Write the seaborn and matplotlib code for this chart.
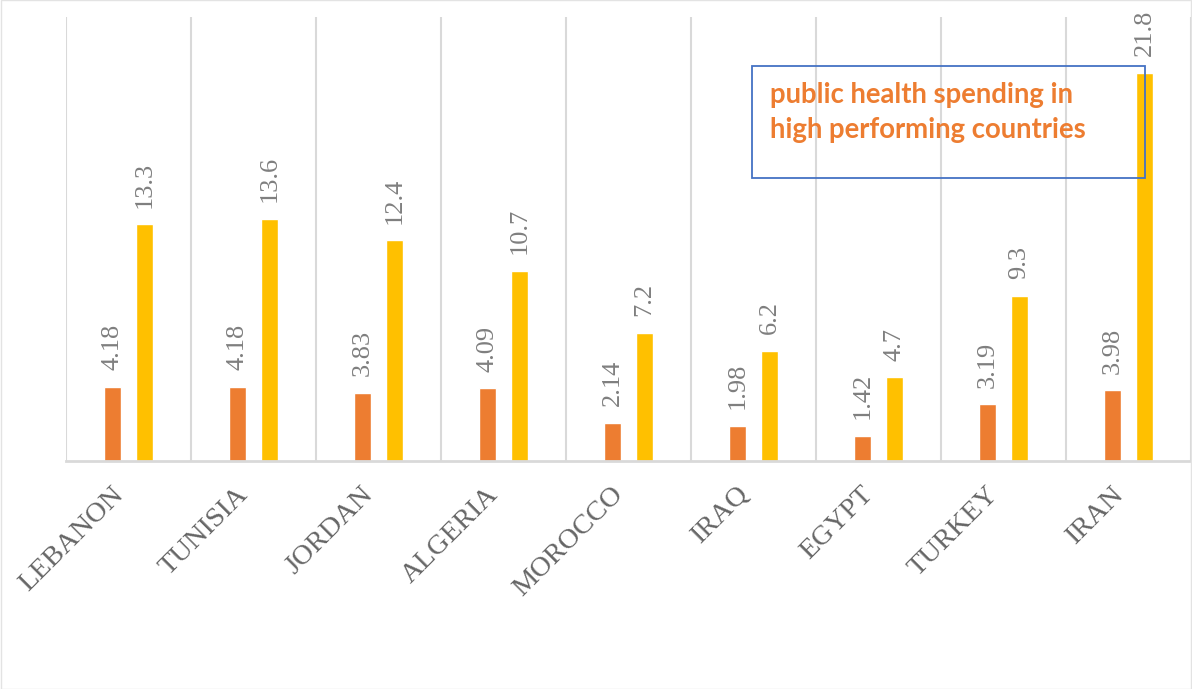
import matplotlib
matplotlib.use("Agg")
import matplotlib.pyplot as plt
from matplotlib.patches import Rectangle
import seaborn as sns
import pandas as pd

countries = ["LEBANON", "TUNISIA", "JORDAN", "ALGERIA", "MOROCCO",
             "IRAQ", "EGYPT", "TURKEY", "IRAN"]
series_a = [4.18, 4.18, 3.83, 4.09, 2.14, 1.98, 1.42, 3.19, 3.98]
series_b = [13.3, 13.6, 12.4, 10.7, 7.2, 6.2, 4.7, 9.3, 21.8]
series_names = ["A", "B"]
note_text = "public health spending in\nhigh performing countries"

df = pd.DataFrame({
    "country": countries * 2,
    "value": series_a + series_b,
    "series": [series_names[0]] * len(countries) + [series_names[1]] * len(countries),
})

sns.set_theme(style="white")
plt.rcParams["font.family"] = ["Liberation Serif", "DejaVu Serif"]

fig = plt.figure(figsize=(11.92, 6.89), dpi=100)
ax = fig.add_axes([66 / 1192, 1 - 461 / 689, 1125 / 1192, 444 / 689])

sns.barplot(data=df, x="country", y="value", hue="series",
            order=countries, hue_order=series_names,
            palette=["#ED7D31", "#FFC000"], width=0.512, gap=0.47,
            legend=False, ax=ax, saturation=1)

for cont in ax.containers:
    ax.bar_label(cont, fmt="{:g}", rotation=90, padding=12,
                 fontsize=19, color="#7F7F7F", family="Liberation Serif")

ax.set_xlim(-0.5, len(countries) - 0.5)
ax.set_ylim(0, 24.95)
ax.set_yticks([])
ax.set_xlabel("")
ax.set_ylabel("")

# category separators
ax.set_xticks([i - 0.5 for i in range(len(countries) + 1)], minor=True)
ax.grid(True, which="minor", axis="x", color="#D9D9D9", linewidth=1.5)
ax.grid(False, which="major")
ax.tick_params(axis="x", which="both", length=0, pad=15)
ax.set_xticks(range(len(countries)))
ax.set_xticklabels(countries, rotation=45, ha="right", va="top",
                   fontsize=20.5, color="#666666", family="Liberation Serif")

for side in ["top", "right", "left"]:
    ax.spines[side].set_visible(False)
ax.spines["bottom"].set_color("#D9D9D9")
ax.spines["bottom"].set_linewidth(2)
ax.set_axisbelow(True)

# annotation box
box = Rectangle((752 / 1192, 1 - 178 / 689), (1145 - 752) / 1192, (178 - 66) / 689,
                transform=fig.transFigure, fill=False, edgecolor="#4472C4",
                linewidth=1.3, zorder=5)
fig.patches.append(box)
fig.text(770 / 1192, 1 - 82 / 689, note_text, ha="left", va="top",
         fontsize=19.8, fontweight="bold", color="#ED7D31",
         family=["Lato", "DejaVu Sans"], linespacing=1.45, zorder=6)

# outer frame
fig.patches.append(Rectangle((0.0005, 0.0005), 0.999, 0.999, transform=fig.transFigure,
                             fill=False, edgecolor="#E3E3E3", linewidth=1))

fig.savefig("out.png", dpi=100, facecolor="white")
